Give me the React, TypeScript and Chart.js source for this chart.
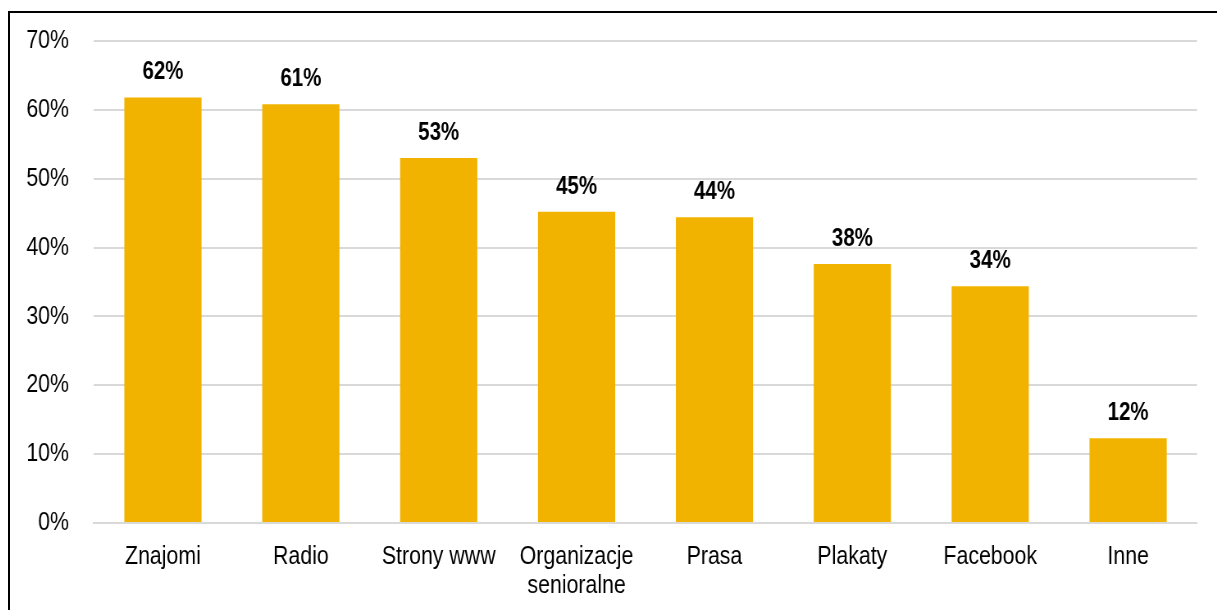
import React, { useEffect, useRef } from "react";
import { Chart, registerables } from "chart.js";

Chart.register(...registerables);

const categories: (string | string[])[] = [
  "Znajomi",
  "Radio",
  "Strony www",
  ["Organizacje", "senioralne"],
  "Prasa",
  "Plakaty",
  "Facebook",
  "Inne",
];
const values: number[] = [61.8, 60.8, 53.0, 45.2, 44.4, 37.6, 34.4, 12.3];
const valueLabels: string[] = ["62%", "61%", "53%", "45%", "44%", "38%", "34%", "12%"];
const yTicks: number[] = [0, 10, 20, 30, 40, 50, 60, 70];

// The reference uses a narrow (Arial Narrow-like) face; emulate it by
// drawing wider and compressing the canvas horizontally.
const SX = 0.82;
const VIEW_W = 1207;
const VIEW_H = 597;
const LOGICAL_W = Math.round(VIEW_W / SX);

const FONT = "'Liberation Sans', Arial, sans-serif";
const BAR = "#F2B300";
const GRID = "#D9D9D9";

const labelPlugin = {
  id: "valueLabels",
  afterDatasetsDraw(chart: any) {
    const ctx = chart.ctx;
    const meta = chart.getDatasetMeta(0);
    ctx.save();
    ctx.fillStyle = "#000";
    ctx.font = `bold 25px ${FONT}`;
    ctx.textAlign = "center";
    ctx.textBaseline = "alphabetic";
    meta.data.forEach((el: any, i: number) => {
      ctx.fillText(valueLabels[i], el.x, el.y - 18);
    });
    ctx.restore();
  },
};

export default function App() {
  const ref = useRef<HTMLCanvasElement | null>(null);
  useEffect(() => {
    if (!ref.current) return;
    const chart = new Chart(ref.current, {
      type: "bar",
      data: {
        labels: categories,
        datasets: [
          {
            data: values,
            backgroundColor: BAR,
            borderWidth: 0,
            barPercentage: 0.56,
            categoryPercentage: 1,
          },
        ],
      },
      options: {
        responsive: false,
        animation: false,
        devicePixelRatio: 1,
        layout: { padding: { top: 28, right: 20 / SX, bottom: 0, left: 0 } },
        plugins: { legend: { display: false }, tooltip: { enabled: false } },
        scales: {
          x: {
            grid: { display: false, drawTicks: false },
            border: { display: true, color: GRID, width: 2 },
            ticks: {
              color: "#000",
              font: { family: FONT, size: 26, lineHeight: 1.12 },
              padding: 19,
              maxRotation: 0,
              autoSkip: false,
            },
            afterFit: (scale: any) => {
              scale.height = 87;
            },
          },
          y: {
            min: 0,
            max: 70,
            afterBuildTicks: (scale: any) => {
              scale.ticks = yTicks.map((v) => ({ value: v }));
            },
            grid: { color: GRID, lineWidth: 2, drawTicks: false },
            border: { display: false },
            ticks: {
              color: "#000",
              font: { family: FONT, size: 26 },
              padding: 25 / SX,
              callback: (v: any) => `${v}%`,
            },
            afterFit: (scale: any) => {
              scale.width = 84 / SX;
              scale.paddingTop = 0;
              scale.paddingBottom = 0;
            },
          },
        },
      },
      plugins: [labelPlugin],
    });
    return () => chart.destroy();
  }, []);

  return (
    <div
      style={{
        position: "fixed",
        left: 8,
        top: 11,
        width: 1209,
        height: 599,
        borderTop: "2px solid #000",
        borderLeft: "2px solid #000",
        boxSizing: "border-box",
        background: "#fff",
        overflow: "hidden",
      }}
    >
      <canvas
        ref={ref}
        width={LOGICAL_W}
        height={VIEW_H}
        style={{
          display: "block",
          transform: `scaleX(${SX})`,
          transformOrigin: "0 0",
        }}
      />
    </div>
  );
}
